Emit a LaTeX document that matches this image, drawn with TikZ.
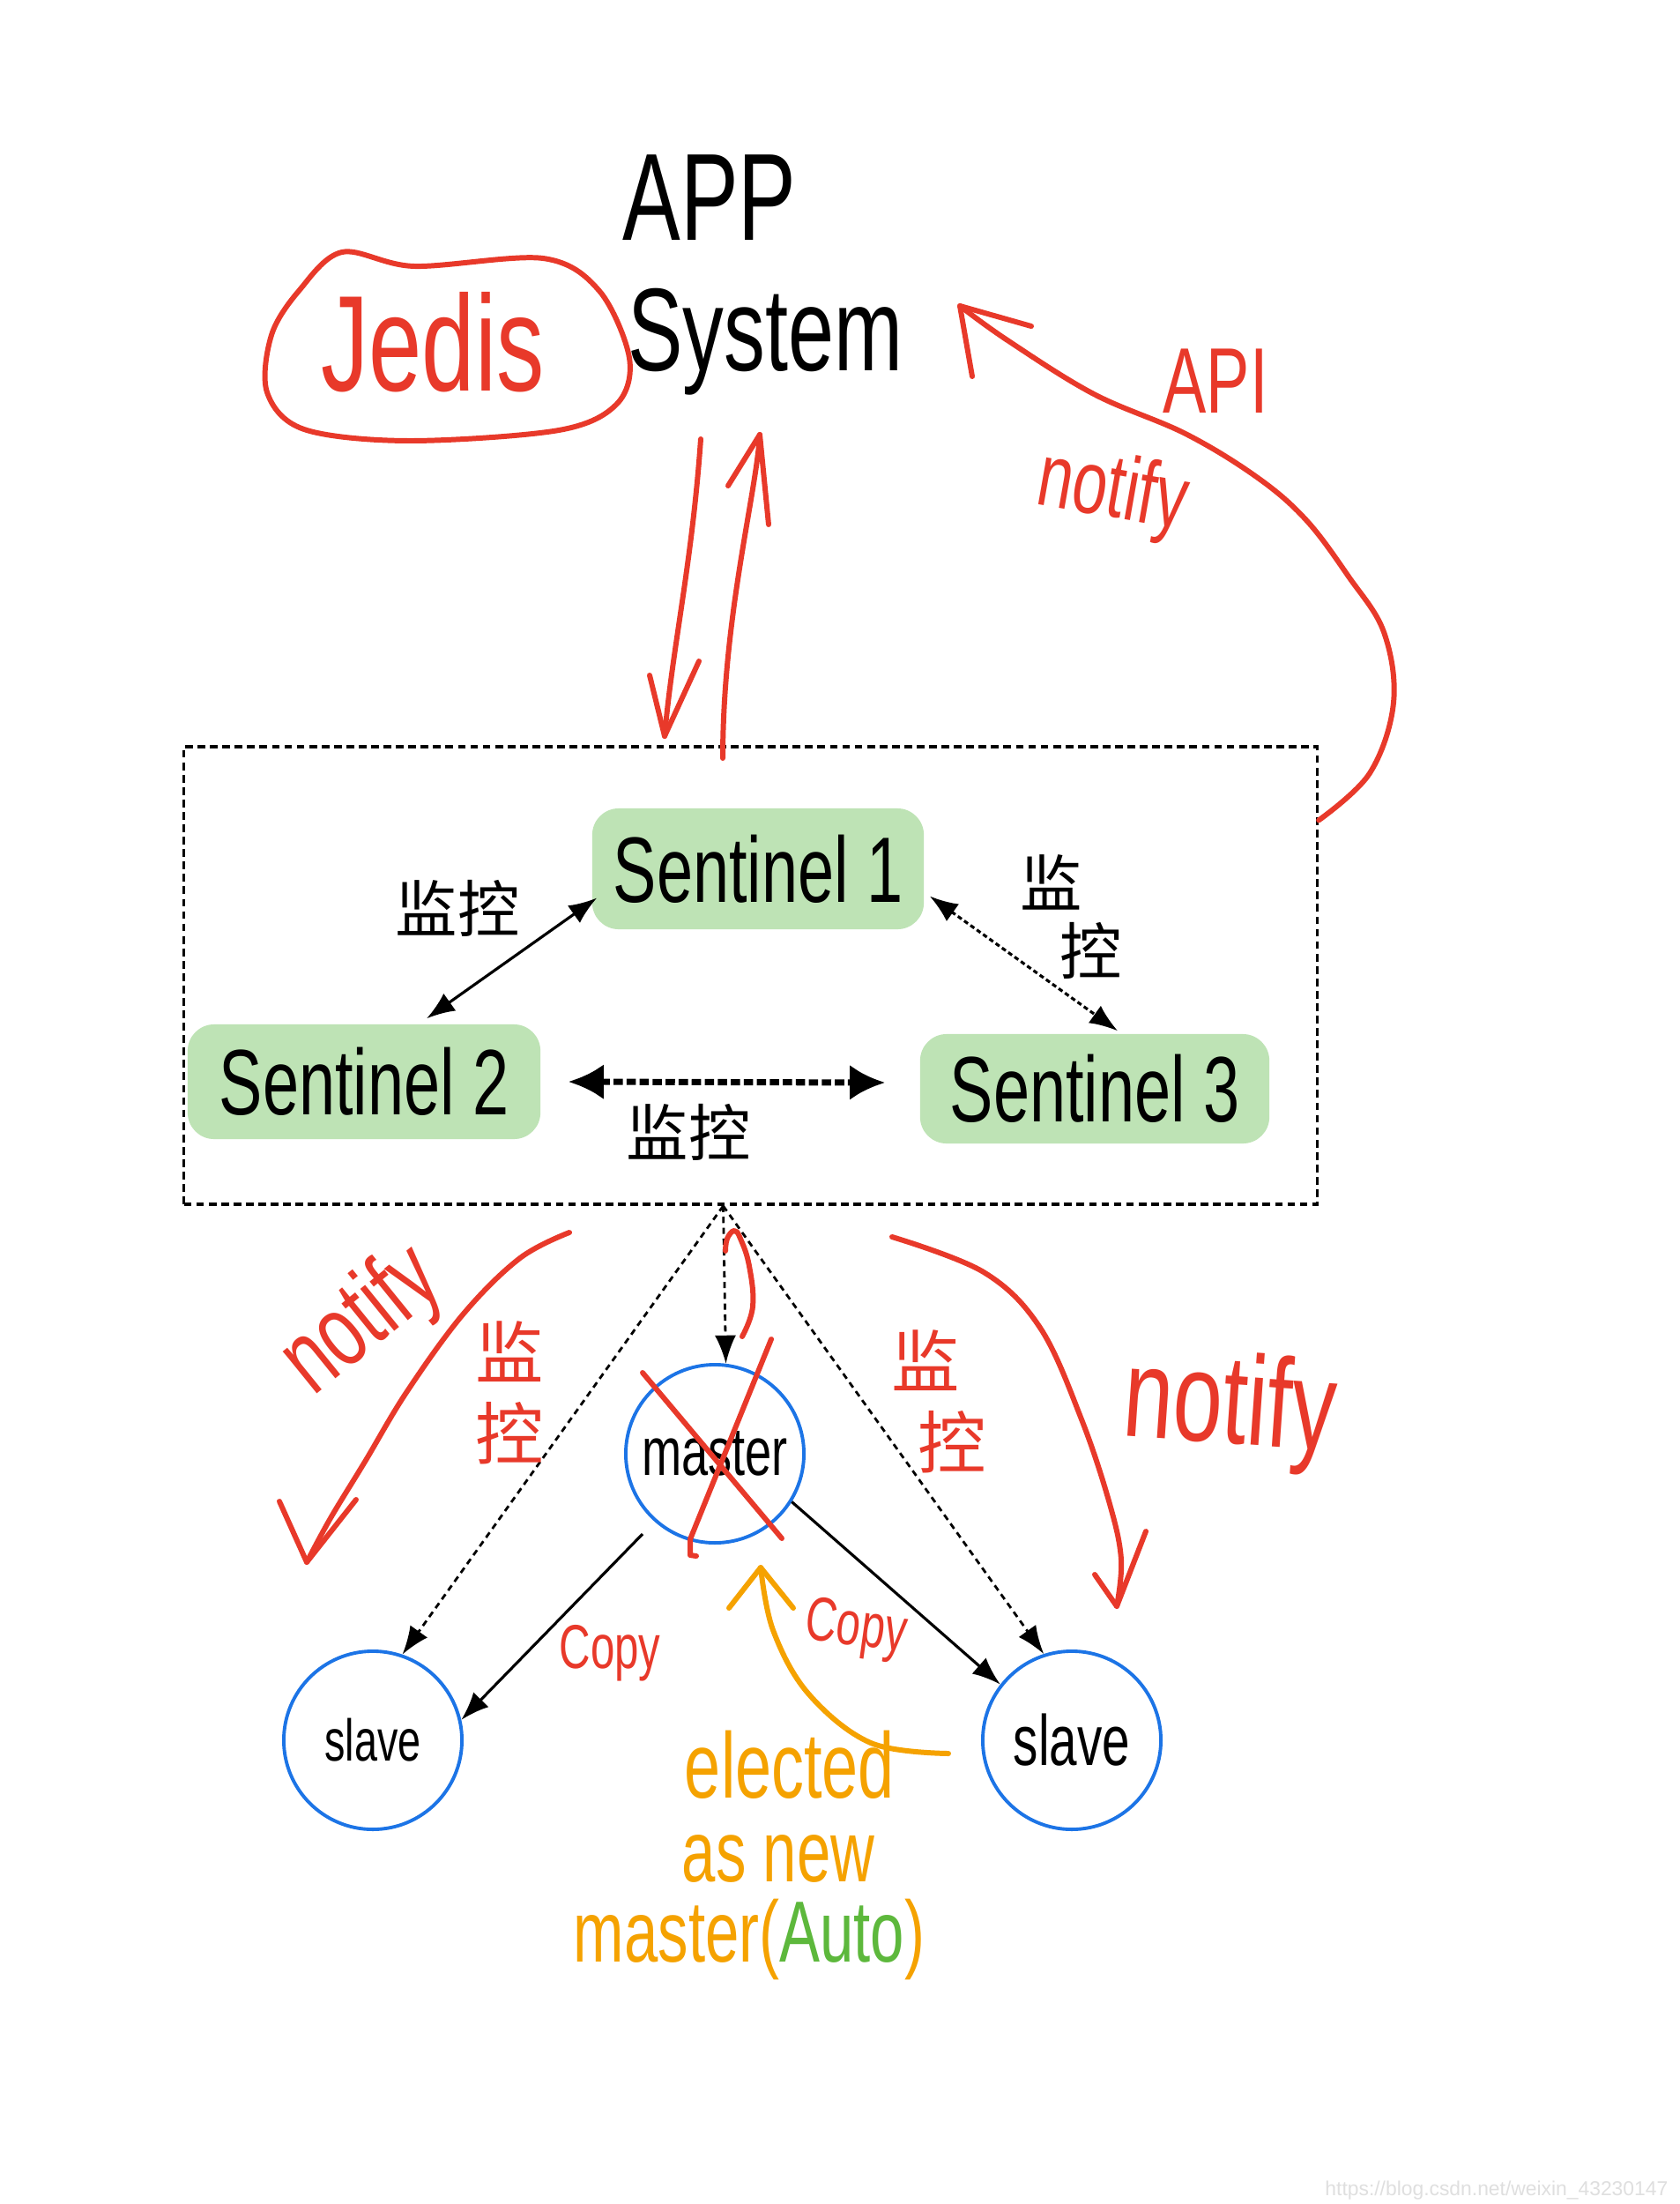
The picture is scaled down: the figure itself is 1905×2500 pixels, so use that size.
\documentclass[tikz,border=0pt]{standalone}
\usepackage{fontspec}
\newfontfamily\hand[FakeStretch=0.7]{Liberation Sans}
\newfontfamily\plainsans{Liberation Sans}
\newfontfamily\cjk{Noto Sans CJK SC}
\usetikzlibrary{arrows.meta,calc}
\definecolor{myred}{HTML}{E8392A}
\definecolor{myorange}{HTML}{F5A200}
\definecolor{mygreen}{HTML}{BEE3B5}
\definecolor{myblue}{HTML}{1C74E6}
\definecolor{autogreen}{HTML}{5DB83C}
\begin{document}
\begin{tikzpicture}[x=0.01cm,y=-0.01cm,
  >={Latex[length=0.32cm,width=0.24cm]},
  redline/.style={draw=myred,line width=1.7pt,line cap=round,line join=round},
  orline/.style={draw=myorange,line width=1.7pt,line cap=round,line join=round},
  blob/.style={fill=mygreen,rounded corners=0.3cm,inner sep=0pt,font=\hand\fontsize{30}{30}\selectfont},
  circ/.style={circle,draw=myblue,line width=1.1pt,minimum size=2.02cm,inner sep=0pt},
  solidarrow/.style={line width=0.9pt,->},
  dasharrow/.style={line width=0.8pt,dash pattern=on 2pt off 1.5pt,->},
  redtxt/.style={text=myred,font=\hand\fontsize{#1}{#1}\selectfont},
  cjkblack/.style={font=\cjk\fontsize{20}{22}\selectfont,align=left,inner sep=0pt},
  cjkred/.style={text=myred,font=\cjk\fontsize{22}{26}\selectfont,align=left,inner sep=0pt},
  ortxt/.style={text=myorange,font=\hand\fontsize{#1}{#1}\selectfont,inner sep=0pt}
]
\useasboundingbox (0,0) rectangle (1905,2500);
\fill[white] (0,0) rectangle (1905,2500);

% ---------- top: APP System and Jedis ----------
\node[font=\hand\fontsize{40}{40}\selectfont,inner sep=0pt] (app) at (805,224) {APP};
\node[font=\hand\fontsize{38}{38}\selectfont,inner sep=0pt] (sys) at (868,388) {System};
\node[redtxt=44,inner sep=0pt] (jedis) at (491,388) {Jedis};
\draw[redline] plot[smooth cycle,tension=0.55] coordinates
  {(388,286) (470,302) (616,293) (680,330) (714,406) (700,458) (634,488) (464,500) (345,487) (303,445) (308,380) (339,330)};

% ---------- sentinel box ----------
\node[draw,line width=1pt,dash pattern=on 2.5pt off 1.5pt,minimum width=12.85cm,minimum height=5.19cm,inner sep=0pt] (box) at (851.5,1106.5) {};

\node[blob,minimum width=3.76cm,minimum height=1.37cm] (s1) at (860,985.5) {Sentinel 1};
\node[blob,minimum width=4.00cm,minimum height=1.30cm] (s2) at (413,1227) {Sentinel 2};
\node[blob,minimum width=3.96cm,minimum height=1.24cm] (s3) at (1242,1235) {Sentinel 3};

\draw[line width=0.9pt,<->] ([xshift=0.06cm,yshift=-0.33cm]s1.west) -- ([xshift=0.71cm,yshift=0.06cm]s2.north);
\draw[line width=0.9pt,dash pattern=on 1.5pt off 1pt,<->] ([xshift=0.06cm,yshift=-0.31cm]s1.east) -- ([xshift=0.26cm,yshift=0.03cm]s3.north);
\draw[line width=2pt,dash pattern=on 3pt off 1.2pt,{Latex[length=0.4cm,width=0.4cm]}-{Latex[length=0.4cm,width=0.4cm]}] ([xshift=0.31cm]s2.east) -- ([xshift=-0.39cm,yshift=0.07cm]s3.west);

\node[cjkblack] (l12) at (519,1030) {监控};
\node[cjkblack] (l13) at (1215,1040) {监\\\hspace*{0.45cm}控};
\node[cjkblack] (l23) at (781,1284) {监控};

% ---------- App <-> box red arrows ----------
\coordinate (dA) at (795,498);
\coordinate (dB) at (754,835);
\draw[redline] (dA) .. controls (785,640) and (763,733) .. (dB);
\draw[redline] (737,766) -- (dB) -- (793,750);
\coordinate (uA) at (820,860);
\coordinate (uB) at (862,493);
\draw[redline] (uA) .. controls (820,700) and (858,560) .. (uB);
\draw[redline] (826,551) -- (uB) -- (872,595);

% ---------- API notify curve ----------
\coordinate (apiA) at ([yshift=1.76cm]box.east);
\coordinate (apiB) at (1089,347);
\draw[redline] plot[smooth,tension=0.6] coordinates
  {(apiA) (1554,877) (1581,797) (1570,717) (1530,654) (1482,590) (1427,542) (1345,492) (1241,447) (1143,386) (apiB)};
\draw[redline] (1103,427) -- (apiB) -- (1170,370);
\node[redtxt=30,inner sep=0pt] (api) at (1379,432) {API};
\node[redtxt=29,inner sep=0pt,rotate=-10] (ntop) at (1262,560) {notify};

% ---------- bottom nodes ----------
\coordinate (apex) at ([xshift=-0.31cm]box.south);
\node[circ,font=\hand\fontsize{22}{22}\selectfont] (m) at (811,1649) {master};
\node[circ,font=\hand\fontsize{19}{19}\selectfont] (ls) at (423,1974) {slave};
\node[circ,font=\hand\fontsize{23}{23}\selectfont] (rs) at (1216,1974) {slave};

\draw[dasharrow] (apex) -- (m.83);
\draw[dasharrow] (apex) -- (ls.71);
\draw[dasharrow] (apex) -- (rs.108);

\coordinate (cl) at ($(m.center)+(-82,91)$);
\draw[solidarrow] (cl) -- (ls.13);
\draw[solidarrow] (m.-32) -- (rs.142);

\node[redtxt=20,inner sep=0pt] (copyl) at (692,1875) {Copy};
\node[redtxt=20,inner sep=0pt,rotate=-8] (copyr) at (971,1849) {Copy};

% red X over master
\draw[redline] (729,1557) -- (887,1745);
\draw[redline] (875,1519) -- (783,1746) -- (783,1764) -- (790,1765);
% red hook above master
\draw[redline] plot[smooth,tension=0.7] coordinates
  {(842,1516) (854,1482) (850,1436) (840,1405) (833,1396) (825,1405) (823,1419)};

% left notify
\coordinate (nlA) at (646,1398);
\coordinate (nlB) at (348,1772);
\draw[redline] plot[smooth,tension=0.6] coordinates
  {(nlA) (590,1427) (526,1490) (462,1578) (414,1658) (375,1722) (nlB)};
\draw[redline] (317,1703) -- (nlB) -- (404,1701);
\node[redtxt=33,inner sep=0pt,rotate=39] (nl) at (412,1500) {notify};
\node[cjkred] (rl) at (578,1580) {监\\控};

% right notify
\coordinate (nrA) at (1012,1403);
\coordinate (nrB) at (1267,1822);
\draw[redline] plot[smooth,tension=0.6] coordinates
  {(nrA) (1116,1443) (1180,1506) (1227,1610) (1259,1706) (1272,1769) (nrB)};
\draw[redline] (1242,1786) -- (nrB) -- (1300,1737);
\node[redtxt=41,inner sep=0pt,rotate=-4] (nr) at (1395,1600) {notify};
\node[cjkred] (rr) at (1065,1590) {监\\\hspace*{0.3cm}控};

% orange elected arrow
\coordinate (oA) at (1076,1989);
\coordinate (oB) at (863,1778);
\draw[orline] plot[smooth,tension=0.6] coordinates
  {(oA) (988,1977) (917,1921) (877,1849) (oB)};
\draw[orline] (827,1824) -- (oB) -- (900,1824);
\node[ortxt=30] (el1) at (896,2002) {elected};
\node[ortxt=28] (el2) at (883,2108) {as new};
\node[ortxt=28] (el3) at (850,2200) {master(\textcolor{autogreen}{Auto})};

% watermark
\node[anchor=east,text=gray!25,font=\plainsans\fontsize{6.5}{6.5}\selectfont,inner sep=0pt] (wm) at (1893,2485) {https://blog.csdn.net/weixin\_43230147};
\end{tikzpicture}
\end{document}
